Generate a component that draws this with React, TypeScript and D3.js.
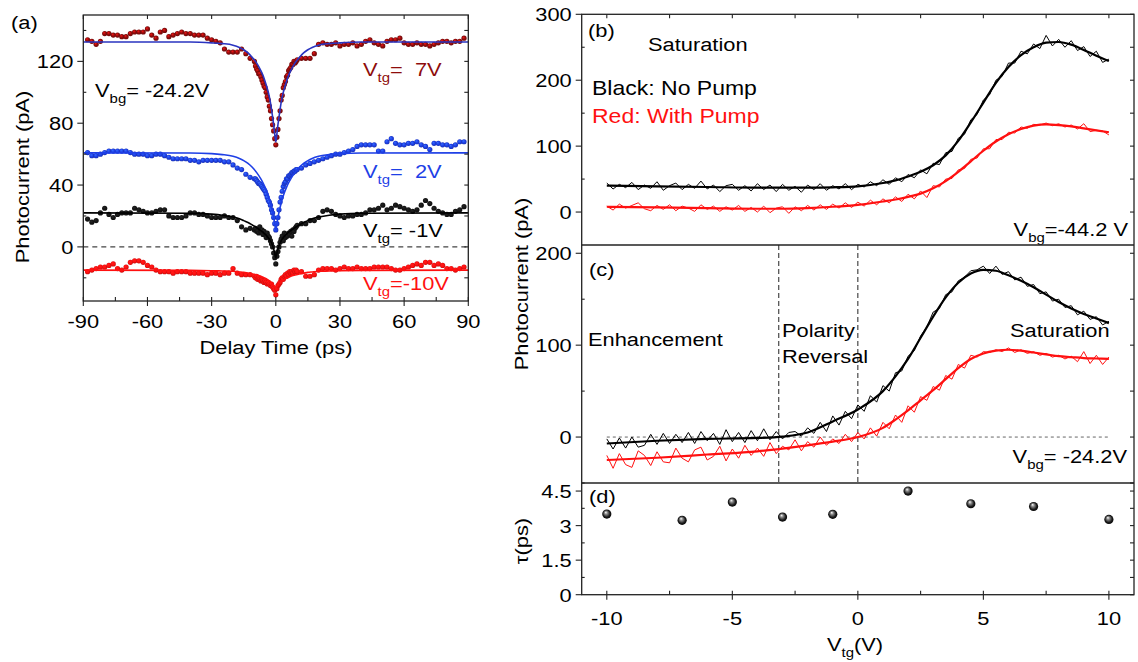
import React from "react";
import * as d3 from "d3";

// ---------- Panel (a): delay scans ----------
const DELAY = [
  -88, -86, -84, -82, -80, -78, -76, -74, -72, -70, -68, -66, -64, -62, -60, -58, -56, -54, -52, -50,
  -48, -46, -44, -42, -40, -38, -36, -34, -32, -30, -28, -26, -24, -22, -20, -18, -16, -14, -12,
  -10, -9.5, -9, -8.5, -8, -7.5, -7, -6.5, -6, -5.5, -5, -4.5, -4, -3.5, -3, -2.5, -2, -1.5, -1, -0.5,
  0, 0.5, 1, 1.5, 2, 2.5, 3, 3.5, 4, 4.5, 5, 5.5, 6, 6.5, 7, 7.5, 8, 8.5, 9, 9.5, 10,
  12, 14, 16, 18, 20, 22, 24, 26, 28, 30, 32, 34, 36, 38, 40, 42, 44, 46, 48, 50,
  52, 54, 56, 58, 60, 62, 64, 66, 68, 70, 72, 74, 76, 78, 80, 82, 84, 86, 88,
];
const PC_7V = [
  134, 133, 131, 133, 138, 138, 137, 137, 136, 136, 138, 139, 139, 139, 141, 137, 135, 139, 140, 136,
  137, 138, 139, 138, 138, 137, 137, 137, 135, 134, 133, 132, 128, 126, 126, 126, 128, 125, 122,
  120, 117, 115, 114, 112, 112, 110, 108, 106, 104, 103, 100, 97, 95, 91, 88, 83, 79, 75, 70,
  66, 71, 76, 83, 88, 95, 98, 103, 105, 107, 110, 111, 114, 115, 116, 118, 118, 120, 119, 120, 121,
  122, 122, 122, 125, 131, 132, 131, 131, 132, 130, 131, 131, 132, 130, 131, 133, 134, 132, 131, 130,
  133, 134, 134, 135, 132, 131, 131, 132, 131, 131, 130, 131, 132, 133, 133, 132, 133, 133, 135,
];
const PC_2V = [
  61, 59, 59, 60, 61, 62, 62, 62, 62, 62, 61, 60, 60, 60, 59, 59, 60, 60, 59, 58,
  57, 57, 57, 57, 56, 56, 55, 56, 56, 56, 56, 56, 55, 55, 53, 51, 50, 47, 45,
  44, 44, 43, 42, 41, 41, 40, 39, 38, 37, 36, 34, 32, 30, 29, 27, 24, 22, 19, 15,
  11, 15, 19, 24, 29, 32, 36, 39, 41, 42, 44, 44, 46, 46, 47, 48, 48, 49, 49, 50, 50,
  51, 53, 54, 55, 56, 57, 58, 59, 60, 60, 61, 62, 63, 65, 66, 66, 66, 66, 62, 62,
  68, 70, 67, 66, 66, 67, 67, 68, 66, 65, 63, 67, 67, 66, 66, 65, 66, 68, 68,
];
const PC_M1V = [
  18, 16, 17, 22, 25, 21, 19, 21, 22, 22, 22, 25, 24, 23, 22, 22, 23, 24, 24, 20,
  19, 19, 19, 20, 22, 22, 21, 21, 20, 19, 19, 19, 20, 19, 19, 17, 13, 11, 12,
  11, 12, 10, 10, 9, 13, 10, 11, 8, 10, 9, 6, 9, 7, 6, 4, 2, 0, -4, -7,
  -11, -6, -3, 0, 3, 5, 7, 4, 9, 6, 8, 7, 9, 8, 10, 7, 11, 10, 12, 13, 14,
  15, 15, 17, 17, 19, 23, 24, 23, 21, 20, 19, 20, 20, 21, 21, 22, 24, 24, 25, 27,
  24, 25, 27, 26, 25, 24, 23, 24, 27, 30, 28, 25, 23, 22, 21, 21, 23, 24, 26,
];
const PC_M10V = [
  -16, -15, -14, -13, -13, -12, -11, -14, -15, -13, -10, -9, -9, -10, -12, -13, -15, -16, -16, -16,
  -17, -16, -16, -16, -17, -17, -17, -17, -18, -17, -17, -18, -17, -17, -14, -17, -18, -18, -18,
  -19, -20, -19, -21, -20, -21, -22, -21, -22, -23, -22, -23, -24, -23, -24, -25, -24, -26, -27, -28,
  -31, -27, -25, -24, -23, -21, -20, -21, -19, -18, -19, -17, -18, -16, -17, -16, -17, -15, -16, -15, -16,
  -16, -19, -19, -18, -15, -14, -14, -14, -15, -14, -13, -14, -14, -13, -14, -14, -14, -13, -13, -13,
  -13, -14, -15, -15, -14, -13, -12, -11, -12, -10, -10, -12, -11, -12, -14, -14, -15, -14, -13,
];
const FIT_T = [
  -90, -40, -30, -25, -20, -17, -15, -13, -11, -9, -7, -6, -5, -4, -3, -2, -1.5, -1, -0.5, 0,
  0.5, 1, 1.5, 2, 3, 4, 5, 6, 7, 9, 11, 13, 15, 17, 20, 25, 30, 40, 90,
];
const FIT_7V = [
  132.5, 132.5, 132, 131.5, 130.5, 129, 127.5, 125.5, 122.5, 119, 114, 111, 107, 102.5, 97, 89, 84, 79, 73, 68,
  73, 79, 84, 89, 97, 102.5, 107, 111, 114, 119, 122.5, 125.5, 127.5, 129, 130.5, 131.5, 132, 132.5, 132.5,
];
const FIT_2V = [
  60.8, 60.7, 60.3, 59.7, 58.6, 57.2, 55.8, 54, 51.5, 48.2, 44, 41.5, 38.5, 35, 30.8, 25.5, 22.5, 19, 15, 11,
  15, 19, 22.5, 25.5, 30.8, 35, 38.5, 41.5, 44, 48.2, 51.5, 54, 55.8, 57.2, 58.6, 59.7, 60.3, 60.7, 60.8,
];
const FIT_M1V = [
  22, 21.8, 21.2, 20.5, 19.3, 18.2, 17, 15.8, 14.2, 12.5, 10.5, 9.5, 8.2, 6.8, 5, 2.5, 0.8, -1.5, -4, -7,
  -4, -1.5, 0.8, 2.5, 5, 6.8, 8.2, 9.5, 10.5, 12.5, 14.2, 15.8, 17, 18.2, 19.3, 20.5, 21.2, 21.8, 22,
];
const FIT_M10V = [
  -15, -15.2, -15.4, -15.6, -15.8, -16.2, -16.5, -17, -17.5, -18.2, -19, -19.6, -20.3, -21.1, -22, -23.2, -23.9, -24.8, -25.7, -26.8,
  -25.7, -24.8, -23.9, -23.2, -22, -21.1, -20.3, -19.6, -19, -18.2, -17.5, -17, -16.5, -16.2, -15.8, -15.6, -15.4, -15.2, -15,
];
const A_YTICKS = [0, 40, 80, 120];
const A_XTICKS = [-90, -60, -30, 0, 30, 60, 90];

// ---------- Panels (b), (c): gate sweeps ----------
const VTG = [
  -10, -9.75, -9.5, -9.25, -9, -8.75, -8.5, -8.25, -8, -7.75, -7.5, -7.25, -7, -6.75, -6.5, -6.25, -6, -5.75, -5.5, -5.25,
  -5, -4.75, -4.5, -4.25, -4, -3.75, -3.5, -3.25, -3, -2.75, -2.5, -2.25, -2, -1.75, -1.5, -1.25, -1, -0.75, -0.5, -0.25,
  0, 0.25, 0.5, 0.75, 1, 1.25, 1.5, 1.75, 2, 2.25, 2.5, 2.75, 3, 3.25, 3.5, 3.75, 4, 4.25, 4.5, 4.75,
  5, 5.25, 5.5, 5.75, 6, 6.25, 6.5, 6.75, 7, 7.25, 7.5, 7.75, 8, 8.25, 8.5, 8.75, 9, 9.25, 9.5, 9.75, 10,
];
const B_NOPUMP = [
  44, 35, 42, 37, 45, 34, 41, 36, 46, 33, 40, 44, 34, 42, 36, 47, 35, 41, 31, 40,
  42, 33, 40, 32, 43, 34, 41, 31, 42, 33, 39, 30, 41, 34, 43, 33, 40, 35, 43, 34,
  42, 38, 46, 40, 49, 42, 52, 46, 57, 52, 64, 58, 74, 72, 90, 92, 112, 118, 140, 148,
  170, 178, 200, 206, 226, 226, 244, 240, 255, 248, 268, 252, 262, 250, 260, 245, 251, 236, 244, 227, 232,
];
const B_PUMP = [
  9, 3, 12, 6, 10, 14, 5, 2, 10, 4, 11, 2, 9, 6, 1, 11, 4, 9, 1, 8,
  3, 10, 1, 7, 0, 9, -1, 6, 8, -2, 8, 2, 10, 3, 11, 4, 12, 6, 14, 7,
  15, 9, 18, 11, 20, 14, 23, 16, 27, 20, 32, 22, 40, 38, 50, 51, 64, 66, 80, 82,
  96, 96, 110, 110, 121, 120, 129, 127, 133, 132, 135, 131, 134, 129, 132, 126, 134, 122, 124, 123, 117,
];
const C_NOPUMP = [
  -2, -13, -1, -12, 0, -11, -9, 3, -8, 4, -7, 3, -6, 5, -7, 6, -4, 4, -8, 8,
  -5, 5, -6, 7, -4, 9, -3, 6, -2, 5, 6, 1, 10, 4, 16, 6, 23, 13, 28, 20,
  35, 28, 45, 38, 56, 50, 70, 72, 88, 94, 110, 120, 136, 140, 155, 158, 170, 174, 181, 182,
  186, 178, 186, 177, 180, 171, 174, 164, 166, 156, 158, 148, 150, 141, 143, 133, 137, 128, 131, 122, 126,
];
const C_PUMP = [
  -20, -34, -18, -30, -33, -15, -20, -31, -16, -27, -28, -12, -23, -27, -14, -11, -25, -21, -10, -26,
  -13, -23, -9, -20, -12, -21, -6, -18, -10, -14, -3, -15, -5, -11, 0, -9, -2, -7, 3, -5,
  5, -2, 10, 1, 16, 9, 24, 16, 34, 27, 44, 40, 55, 51, 67, 63, 79, 75, 89, 87,
  93, 92, 95, 93, 97, 92, 95, 91, 93, 89, 91, 87, 89, 85, 88, 82, 93, 80, 89, 79, 87,
];
const FIT_V = [-10, -8, -6, -4, -3, -2, -1, 0, 1, 1.5, 2, 2.5, 3, 3.5, 4, 4.5, 5, 5.5, 6, 6.5, 7, 7.5, 8, 8.5, 9, 9.5, 10];
const FB_NOPUMP = [40, 39, 38, 37, 37, 37, 37.5, 39, 44, 48, 54, 61, 71, 86, 108, 136, 166, 196, 220, 238, 250, 257, 258, 254, 246, 237, 229];
const FB_PUMP = [8, 7, 6, 5, 5, 6, 8, 11, 16, 19, 23, 28, 36, 47, 61, 77, 93, 107, 118, 126, 131, 133, 132, 130, 127, 124, 121];
const FC_NOPUMP = [-7, -4, -2, -1, 0.5, 5, 17, 30, 50, 66, 85, 108, 131, 152, 168, 178, 182, 181, 176, 170, 163, 155, 147, 140, 134, 129, 124];
const FC_PUMP = [-25, -22.5, -19, -15.5, -12.5, -9, -5, 0, 10, 19, 29, 40, 51, 63, 75, 85, 91, 94, 95, 94, 92, 90, 88, 87, 86, 85.5, 85];
const REGION_BOUNDS = [-3.15, 0];
const B_YTICKS = [0, 100, 200, 300];
const C_YTICKS = [0, 100, 200];

// ---------- Panel (d): time constants ----------
const V_TAU = [-10, -7, -5, -3, -1, 2, 4.5, 7, 10];
const TAU = [3.5, 3.23, 4.02, 3.37, 3.49, 4.5, 3.95, 3.83, 3.27];
const D_YTICKS = [0, 1.5, 3, 4.5];
const V_XTICKS = [-10, -5, 0, 5, 10];

// ---------- styling ----------
const FONT = "'Liberation Sans', Arial, Helvetica, sans-serif";
const SX = 1.15;
const C7 = "#8e0c0c";
const C7FIT = "#2a34c0";
const C2 = "#1e3fe6";
const CRED = "#ff1010";
const AXIS = "#222";
const NB = "\u00a0";

function Txt({ x, y, anchor = "start", size = 19, fill = "#000", rot = 0, children }: any) {
  const tf = `translate(${x},${y})${rot ? ` rotate(${rot})` : ""} scale(${SX},1)`;
  return (
    <text transform={tf} textAnchor={anchor} fontSize={size} fontFamily={FONT} fill={fill}>
      {children}
    </text>
  );
}

function SubLabel({ x, y, main, sub, rest, anchor = "start", fill = "#000", size = 19 }: any) {
  return (
    <Txt x={x} y={y} anchor={anchor} fill={fill} size={size}>
      <tspan>{main}</tspan>
      <tspan fontSize={13} dy={6}>{sub}</tspan>
      <tspan dy={-6}>{rest}</tspan>
    </Txt>
  );
}

function mkLine(xs: number[], ys: number[], sx: any, sy: any, curve: any = d3.curveLinear) {
  return d3
    .line<number>()
    .x((_, i) => sx(xs[i]))
    .y((d) => sy(d))
    .curve(curve)(ys) as string;
}

function Grad({ id, color }: any) {
  const c = d3.color(color)!;
  return (
    <radialGradient id={id} cx="50%" cy="50%" r="55%" fx="35%" fy="32%">
      <stop offset="0%" stopColor={c.brighter(1.6).formatHex()} />
      <stop offset="55%" stopColor={color} />
      <stop offset="100%" stopColor={c.darker(0.8).formatHex()} />
    </radialGradient>
  );
}

export default function App() {
  const ax = d3.scaleLinear().domain([-90, 90]).range([83.3, 468.3]);
  const ay = d3.scaleLinear().domain([-35, 150]).range([301, 15]);
  const vx = d3.scaleLinear().domain([-11, 11]).range([581.7, 1134]);
  const by = d3.scaleLinear().domain([-50, 300]).range([245, 14.3]);
  const cy = d3.scaleLinear().domain([-50, 209]).range([483, 245]);
  const dy = d3.scaleLinear().domain([0, 4.85]).range([594.7, 483]);

  const aSeries = [
    { key: "s7", vals: PC_7V, fit: FIT_7V, color: C7, fitColor: C7FIT },
    { key: "s2", vals: PC_2V, fit: FIT_2V, color: C2, fitColor: C2 },
    { key: "s1", vals: PC_M1V, fit: FIT_M1V, color: "#151515", fitColor: "#000" },
    { key: "s10", vals: PC_M10V, fit: FIT_M10V, color: CRED, fitColor: CRED },
  ];

  const aL = 83.3, aR = 468.3, aT = 15, aB = 301;
  const rL = 581.7, rR = 1134, rT = 14.3, rB = 594.7;

  const tickLine = (x1: number, y1: number, x2: number, y2: number, k: string) => (
    <line key={k} x1={x1} y1={y1} x2={x2} y2={y2} stroke={AXIS} strokeWidth={1.1} />
  );

  const aY20 = d3.range(-20, 141, 20);
  const aX15 = d3.range(-90, 91, 15);
  const vX25 = d3.range(-10, 10.01, 2.5);

  return (
    <svg
      width={1138}
      height={662}
      viewBox="0 0 1138 662"
      style={{ position: "absolute", left: 0, top: 0, background: "#fff" }}
    >
      <defs>
        {aSeries.map((s) => (
          <Grad key={s.key} id={`g-${s.key}`} color={s.color} />
        ))}
        <radialGradient id="g-tau" cx="50%" cy="50%" r="55%" fx="38%" fy="30%">
          <stop offset="0%" stopColor="#ffffff" />
          <stop offset="30%" stopColor="#8a8a8a" />
          <stop offset="70%" stopColor="#1a1a1a" />
          <stop offset="100%" stopColor="#000" />
        </radialGradient>
      </defs>
      <rect x={0} y={0} width={1138} height={662} fill="#fff" />

      {/* ================= Panel (a) ================= */}
      <line x1={aL} x2={aR} y1={ay(0)} y2={ay(0)} stroke="#444" strokeWidth={1.4} strokeDasharray="5,4" />
      {aSeries.map((s) => (
        <g key={s.key}>
          {DELAY.map((t, i) => (
            <circle key={i} cx={ax(t)} cy={ay(s.vals[i])} r={2.6} fill={`url(#g-${s.key})`} />
          ))}
          <path d={mkLine(FIT_T, s.fit, ax, ay, d3.curveMonotoneX)} fill="none" stroke={s.fitColor} strokeWidth={1.6} />
        </g>
      ))}
      <rect x={aL} y={aT} width={aR - aL} height={aB - aT} fill="none" stroke={AXIS} strokeWidth={1.3} />
      {A_YTICKS.map((v) => tickLine(aL - 6, ay(v), aL, ay(v), `aly${v}`))}
      {aY20.filter((v) => !A_YTICKS.includes(v)).map((v) => tickLine(aL, ay(v), aL + 3, ay(v), `alm${v}`))}
      {aY20.map((v) => tickLine(aR - 4, ay(v), aR, ay(v), `ar${v}`))}
      {A_YTICKS.map((v) => (
        <Txt key={`alab${v}`} x={aL - 10} y={ay(v) + 7} anchor="end">{v}</Txt>
      ))}
      {A_XTICKS.map((v) => tickLine(ax(v), aB, ax(v), aB + 5, `abx${v}`))}
      {aX15.map((v) => tickLine(ax(v), aB - 4, ax(v), aB, `abm${v}`))}
      {A_XTICKS.map((v) => tickLine(ax(v), aT, ax(v), aT + 4, `atx${v}`))}
      {A_XTICKS.map((v) => (
        <Txt key={`axlab${v}`} x={ax(v)} y={328} anchor="middle">{v}</Txt>
      ))}
      <Txt x={276} y={354} anchor="middle">Delay Time (ps)</Txt>
      <Txt x={29} y={177} anchor="middle" rot={-90}>Photocurrent (pA)</Txt>
      <Txt x={11} y={29}>(a)</Txt>
      <SubLabel x={95} y={97} main="V" sub="bg" rest={`=${NB}-24.2V`} />
      <SubLabel x={363} y={76} main="V" sub="tg" rest={`=${NB}${NB}7V`} fill={C7} />
      <SubLabel x={363} y={178} main="V" sub="tg" rest={`=${NB}${NB}2V`} fill={C2} />
      <SubLabel x={363} y={237} main="V" sub="tg" rest={`=${NB}-1V`} fill="#000" />
      <SubLabel x={363} y={290} main="V" sub="tg" rest="=-10V" fill={CRED} />

      {/* ================= Panel (b) ================= */}
      <path d={mkLine(VTG, B_NOPUMP, vx, by)} fill="none" stroke="#000" strokeWidth={1} />
      <path d={mkLine(VTG, B_PUMP, vx, by)} fill="none" stroke={CRED} strokeWidth={1} />
      <path d={mkLine(FIT_V, FB_NOPUMP, vx, by, d3.curveMonotoneX)} fill="none" stroke="#000" strokeWidth={2.2} />
      <path d={mkLine(FIT_V, FB_PUMP, vx, by, d3.curveMonotoneX)} fill="none" stroke={CRED} strokeWidth={2.2} />
      {B_YTICKS.map((v) => tickLine(rL - 6, by(v), rL, by(v), `bly${v}`))}
      {[50, 150, 250].map((v) => tickLine(rL, by(v), rL + 3, by(v), `blm${v}`))}
      {d3.range(0, 301, 50).map((v) => tickLine(rR - 4, by(v), rR, by(v), `br${v}`))}
      {B_YTICKS.map((v) => (
        <Txt key={`blab${v}`} x={rL - 10} y={by(v) + 7} anchor="end">{v}</Txt>
      ))}
      {vX25.map((v) => tickLine(vx(v), rT, vx(v), rT + 4, `bt${v}`))}
      <Txt x={588} y={37}>(b)</Txt>
      <Txt x={648} y={51}>Saturation</Txt>
      <Txt x={592} y={95} size={20}>Black:{NB}No{NB}Pump</Txt>
      <Txt x={592} y={123} size={20} fill={CRED}>Red:{NB}With{NB}Pump</Txt>
      <SubLabel x={1128} y={236} main="V" sub="bg" rest={`=-44.2${NB}V`} anchor="end" />

      {/* ================= Panel (c) ================= */}
      <line x1={vx(-10)} x2={vx(10)} y1={cy(0)} y2={cy(0)} stroke="#666" strokeWidth={1} strokeDasharray="3,3" />
      {REGION_BOUNDS.map((v) => (
        <line key={`rb${v}`} x1={vx(v)} x2={vx(v)} y1={245} y2={483} stroke="#222" strokeWidth={1} strokeDasharray="5,3" />
      ))}
      <path d={mkLine(VTG, C_NOPUMP, vx, cy)} fill="none" stroke="#000" strokeWidth={1} />
      <path d={mkLine(VTG, C_PUMP, vx, cy)} fill="none" stroke={CRED} strokeWidth={1} />
      <path d={mkLine(FIT_V, FC_NOPUMP, vx, cy, d3.curveMonotoneX)} fill="none" stroke="#000" strokeWidth={2.2} />
      <path d={mkLine(FIT_V, FC_PUMP, vx, cy, d3.curveMonotoneX)} fill="none" stroke={CRED} strokeWidth={2.2} />
      {C_YTICKS.map((v) => tickLine(rL - 6, cy(v), rL, cy(v), `cly${v}`))}
      {[-50, 50, 150].map((v) => tickLine(rL, cy(v), rL + 3, cy(v), `clm${v}`))}
      {d3.range(-50, 201, 50).map((v) => tickLine(rR - 4, cy(v), rR, cy(v), `cr${v}`))}
      {C_YTICKS.map((v) => (
        <Txt key={`clab${v}`} x={rL - 10} y={cy(v) + 7} anchor="end">{v}</Txt>
      ))}
      <Txt x={589} y={276}>(c)</Txt>
      <Txt x={588} y={346}>Enhancement</Txt>
      <Txt x={782} y={337}>Polarity</Txt>
      <Txt x={782} y={363}>Reversal</Txt>
      <Txt x={1010} y={337}>Saturation</Txt>
      <SubLabel x={1127} y={463} main="V" sub="bg" rest={`=${NB}-24.2V`} anchor="end" />

      {/* ================= Panel (d) ================= */}
      {V_TAU.map((v, i) => (
        <circle key={`tau${i}`} cx={vx(v)} cy={dy(TAU[i])} r={4.6} fill="url(#g-tau)" />
      ))}
      {D_YTICKS.map((v) => tickLine(rL - 6, dy(v), rL, dy(v), `dly${v}`))}
      {[0.75, 2.25, 3.75].map((v) => tickLine(rL, dy(v), rL + 3, dy(v), `dlm${v}`))}
      {d3.range(0, 4.6, 0.75).map((v) => tickLine(rR - 4, dy(v), rR, dy(v), `dr${v}`))}
      {D_YTICKS.map((v) => (
        <Txt key={`dlab${v}`} x={rL - 10} y={dy(v) + 7} anchor="end">{v}</Txt>
      ))}
      {V_XTICKS.map((v) => tickLine(vx(v), rB, vx(v), rB + 5, `dbx${v}`))}
      {vX25.map((v) => tickLine(vx(v), rB - 4, vx(v), rB, `dbm${v}`))}
      {V_XTICKS.map((v) => (
        <Txt key={`dxlab${v}`} x={vx(v)} y={625} anchor="middle">{v}</Txt>
      ))}
      <Txt x={589} y={503}>(d)</Txt>

      <rect x={rL} y={rT} width={rR - rL} height={rB - rT} fill="none" stroke={AXIS} strokeWidth={1.3} />
      <line x1={rL} x2={rR} y1={245} y2={245} stroke={AXIS} strokeWidth={1.3} />
      <line x1={rL} x2={rR} y1={483} y2={483} stroke={AXIS} strokeWidth={1.3} />

      <SubLabel x={855} y={651} main="V" sub="tg" rest="(V)" anchor="middle" />
      <Txt x={528} y={284} anchor="middle" rot={-90}>Photocurrent (pA)</Txt>
      <Txt x={528} y={541} anchor="middle" rot={-90}>τ(ps)</Txt>
    </svg>
  );
}
